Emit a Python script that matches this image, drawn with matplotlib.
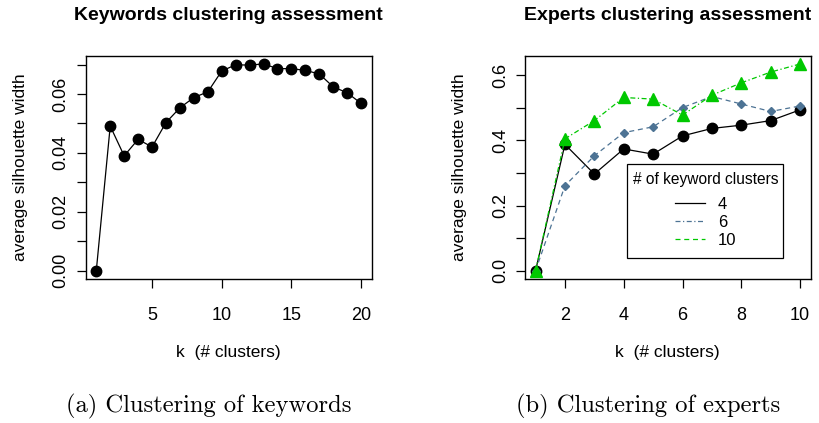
import matplotlib
matplotlib.use("Agg")
import matplotlib.pyplot as plt
from matplotlib.lines import Line2D
from matplotlib.patches import Rectangle

plt.rcParams['font.family'] = ['Liberation Sans', 'DejaVu Sans']

# average silhouette width for keyword clustering, k = 1..20
kw_k = list(range(1, 21))
kw_sil = [0.0000, 0.0491, 0.0390, 0.0446, 0.0420, 0.0503, 0.0553, 0.0588, 0.0607, 0.0678,
          0.0699, 0.0698, 0.0702, 0.0686, 0.0686, 0.0680, 0.0668, 0.0624, 0.0604, 0.0568]

# expert clustering, k = 1..10, for 4 / 6 / 10 keyword clusters
ex_k = list(range(1, 11))
ex_sil_4 = [0.0, 0.388, 0.297, 0.374, 0.358, 0.414, 0.437, 0.447, 0.461, 0.494]
ex_sil_6 = [0.0, 0.261, 0.353, 0.424, 0.442, 0.501, 0.535, 0.512, 0.489, 0.506]
ex_sil_10 = [0.0, 0.405, 0.461, 0.532, 0.527, 0.478, 0.539, 0.577, 0.610, 0.635]
legend_labels = ['4', '6', '10']

blue = '#4d7394'
green = '#00c800'

fig = plt.figure(figsize=(8.2, 4.23), dpi=100)
ax1 = fig.add_axes([0.1045, 0.3404, 0.3488, 0.528])
ax2 = fig.add_axes([0.6402, 0.3404, 0.3484, 0.528])


def r_style(ax):
    for s in ax.spines.values():
        s.set_linewidth(1.0)
    ax.tick_params(direction='out', length=6.5, width=0.9, labelsize=13)
    ax.tick_params(axis='x', pad=13.5)
    ax.tick_params(axis='y', pad=5)
    for lab in ax.get_yticklabels():
        lab.set_rotation(90)
        lab.set_va('center')
    ax.set_ylabel('average silhouette width', fontsize=12.5, labelpad=18)
    ax.set_xlabel('k  (# clusters)', fontsize=12.5, labelpad=15.5)


# left panel
ax1.plot(kw_k, kw_sil, color='black', lw=0.9, marker='o', ms=7.5)
ax1.set_xlim(1 - 0.04 * 19, 20 + 0.04 * 19)
ax1.set_ylim(-0.0028, 0.0702 + 0.0028)
ax1.set_xticks([5, 10, 15, 20])
ax1.set_yticks([i * 0.01 for i in range(8)])
ax1.set_yticklabels(['0.00', '', '0.02', '', '0.04', '', '0.06', ''])
ax1.set_title('Keywords clustering assessment', fontsize=14, fontweight='bold', pad=26)
r_style(ax1)

# right panel
ax2.plot(ex_k, ex_sil_4, color='black', lw=0.9, marker='o', ms=7.5)
ax2.plot(ex_k, ex_sil_6, color=blue, lw=0.9, ls=(0, (4, 3)), marker='D', ms=4)
ax2.plot(ex_k, ex_sil_10, color=green, lw=0.9, ls=(0, (4, 2, 1, 2)), marker='^', ms=8)
ax2.set_xlim(1 - 0.04 * 9, 10 + 0.04 * 9)
ax2.set_ylim(-0.0254, 0.635 + 0.0254)
ax2.set_xticks([2, 4, 6, 8, 10])
ax2.set_yticks([i * 0.1 for i in range(7)])
ax2.set_yticklabels(['0.0', '', '0.2', '', '0.4', '', '0.6'])
ax2.set_title('Experts clustering assessment', fontsize=14, fontweight='bold', pad=26)
r_style(ax2)

# legend: frameless, with a fixed box drawn behind it
ax2.add_patch(Rectangle((0.357, 0.094), 0.546, 0.421, transform=ax2.transAxes,
                        facecolor='white', edgecolor='black', lw=0.9, zorder=4))
handles = [Line2D([], [], color='black', lw=0.9),
           Line2D([], [], color=blue, lw=0.9, ls=(0, (4, 2, 1, 2))),
           Line2D([], [], color=green, lw=0.9, ls=(0, (4, 3)))]
leg = ax2.legend(handles, legend_labels, title='# of keyword clusters', fontsize=12,
                 title_fontsize=11.2, loc='center', bbox_to_anchor=(0.632, 0.31),
                 frameon=False, handlelength=1.8, borderpad=0.2, labelspacing=0.18,
                 handletextpad=0.8)
leg.set_zorder(5)
leg._legend_box.align = 'center'
leg._legend_box.sep = 7

fig.text(0.254, 0.024, '(a) Clustering of keywords', family='cmr10', fontsize=17.7,
         ha='center', va='baseline')
fig.text(0.790, 0.024, '(b) Clustering of experts', family='cmr10', fontsize=17.7,
         ha='center', va='baseline')

fig.savefig('out.png', dpi=100)
